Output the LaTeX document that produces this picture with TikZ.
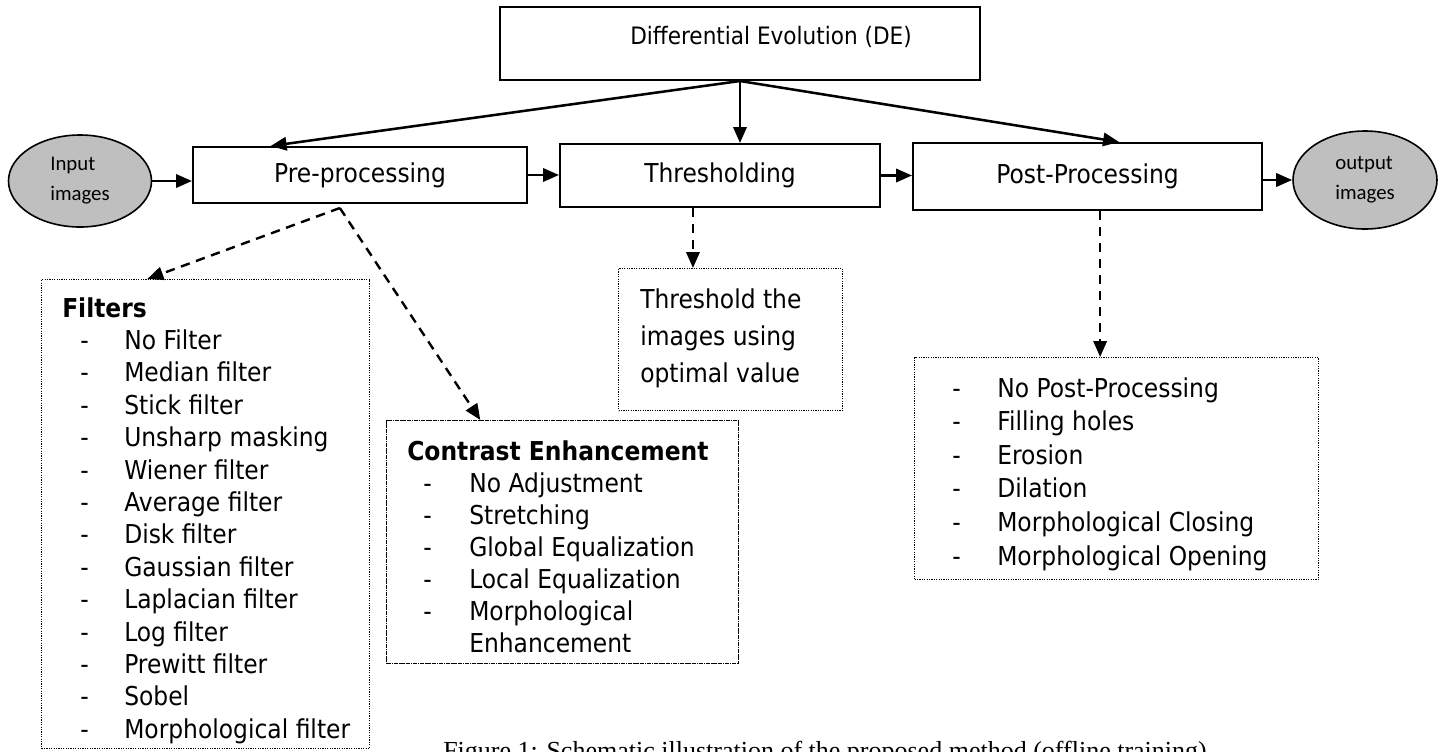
\documentclass[tikz,border=0pt]{standalone}
\usepackage{fontspec}
\setmainfont[FakeStretch=0.9]{DejaVu Sans}
\newfontfamily\calfont{Carlito}
\newfontfamily\capfont{Liberation Serif}
\usetikzlibrary{arrows.meta,shapes.geometric,calc}
\definecolor{ellfill}{RGB}{191,191,191}
\newcommand{\fmain}{\fontsize{19.5}{24.3}\selectfont}
\newcommand{\dashitem}[3]{\hspace*{#1}\makebox[#2][l]{-}#3}
\tikzset{
  procbox/.style={draw, line width=1.5pt, rectangle, inner sep=0pt, font=\fmain},
  listbox/.style={draw, line width=0.9pt, dash pattern=on 0.9pt off 0.9pt, rectangle, inner sep=0pt, anchor=north west},
  ioell/.style={draw, ellipse, line width=1.2pt, fill=ellfill, inner sep=0pt, font=\calfont\fontsize{15.6}{22.5}\selectfont, align=left},
  flow/.style={line width=1.9pt, -{Triangle[length=12pt,width=10pt]}},
  dflow/.style={line width=1.8pt, dash pattern=on 7pt off 5pt, -{Triangle[length=12pt,width=10pt]}},
  listtext/.style={anchor=north west, inner sep=0pt, align=left},
}
\begin{document}
\begin{tikzpicture}[x=0.75pt,y=-0.75pt]
\useasboundingbox (0,0) rectangle (1442,751);
\clip (0,0) rectangle (1442,751);

% top box
\node[procbox, minimum width=360pt, minimum height=54.75pt] (de) at (740,43.5) {};
\node[inner sep=0pt, font=\fontsize{18}{20}\selectfont] (detxt) at (771,37) {Differential Evolution (DE)};

% main row
\node[ioell, minimum width=107.25pt, minimum height=69pt] (in) at (80,181) {Input\\images};
\node[procbox, minimum width=250.5pt, minimum height=42pt] (pre) at (360,175) {Pre-processing};
\node[procbox, minimum width=240pt, minimum height=47.25pt] (thr) at (720,175.5) {Thresholding};
\node[procbox, minimum width=261.75pt, minimum height=50.25pt] (post) at (1087.5,176.5) {Post-Processing};
\node[ioell, minimum width=108pt, minimum height=73.5pt] (out) at (1365,180) {output\\images};

% list boxes
\node[listbox, minimum width=246pt, minimum height=351.75pt] (filt) at (41,279) {};
\node[listbox, dash pattern=on 1pt off 0.3pt, minimum width=264pt, minimum height=182.25pt] (contr) at (386,420) {};
\node[listbox, minimum width=168pt, minimum height=106.5pt] (thrbox) at (618,268) {};
\node[listbox, minimum width=303pt, minimum height=166.5pt] (postlist) at (914,357) {};

% list texts
\node[listtext, font=\fontsize{19.5}{24.3}\selectfont] (filttxt) at (62,297) {\textbf{Filters}\\
\dashitem{13.5pt}{33pt}{No Filter}\\
\dashitem{13.5pt}{33pt}{Median filter}\\
\dashitem{13.5pt}{33pt}{Stick filter}\\
\dashitem{13.5pt}{33pt}{Unsharp masking}\\
\dashitem{13.5pt}{33pt}{Wiener filter}\\
\dashitem{13.5pt}{33pt}{Average filter}\\
\dashitem{13.5pt}{33pt}{Disk filter}\\
\dashitem{13.5pt}{33pt}{Gaussian filter}\\
\dashitem{13.5pt}{33pt}{Laplacian filter}\\
\dashitem{13.5pt}{33pt}{Log filter}\\
\dashitem{13.5pt}{33pt}{Prewitt filter}\\
\dashitem{13.5pt}{33pt}{Sobel}\\
\dashitem{13.5pt}{33pt}{Morphological filter}};

\node[listtext, font=\fontsize{19.5}{24}\selectfont] (contrtxt) at (407,440) {\textbf{Contrast Enhancement}\\
\dashitem{12pt}{34.5pt}{No Adjustment}\\
\dashitem{12pt}{34.5pt}{Stretching}\\
\dashitem{12pt}{34.5pt}{Global Equalization}\\
\dashitem{12pt}{34.5pt}{Local Equalization}\\
\dashitem{12pt}{34.5pt}{Morphological}\\
\hspace*{46.5pt}Enhancement};

\node[listtext, font=\fontsize{19.5}{27.75}\selectfont] (thrtxt) at (640,288) {Threshold the\\images using\\optimal value};

\node[listtext, font=\fontsize{19.5}{25.2}\selectfont] (posttxt) at (952,377) {\dashitem{0pt}{33.75pt}{No Post-Processing}\\
\dashitem{0pt}{33.75pt}{Filling holes}\\
\dashitem{0pt}{33.75pt}{Erosion}\\
\dashitem{0pt}{33.75pt}{Dilation}\\
\dashitem{0pt}{33.75pt}{Morphological Closing}\\
\dashitem{0pt}{33.75pt}{Morphological Opening}};

% caption (cut by the page edge, as in the reference)
\node[anchor=base west, inner sep=0pt, font=\capfont\fontsize{19.5}{22}\selectfont] (cap) at (443,759) {Figure 1: Schematic illustration of the proposed method (offline training)};

% DE arrows
\draw[flow] (de.south) -- ($(pre.north west)!0.234!(pre.north east)$);
\draw[flow] (de.south) -- (de.south |- thr.north);
\draw[flow] (de.south) -- ($(post.north west)!0.59!(post.north east)$);

% row arrows
\draw[flow] (in) -- (in -| pre.west);
\draw[flow] (pre.east) -- (pre.east -| thr.west);
\draw[flow] (thr.east) -- (thr.east -| post.west);
\draw[flow] (post.east |- out) -- (out);

% dashed arrows
\coordinate (pk) at ($(pre.south west)!0.44!(pre.south east)+(0,4)$);
\draw[dflow] (pk) -- ($(filt.north west)!0.323!(filt.north east)$);
\draw[dflow] (pk) -- ($(contr.north west)!0.267!(contr.north east)$);
\coordinate (ts) at ($(thr.south west)!0.416!(thr.south east)$);
\draw[dflow] (ts) -- (ts |- thrbox.north);
\coordinate (ps) at ($(post.south west)!0.536!(post.south east)$);
\draw[dflow] (ps) -- (ps |- postlist.north);
\end{tikzpicture}
\end{document}
